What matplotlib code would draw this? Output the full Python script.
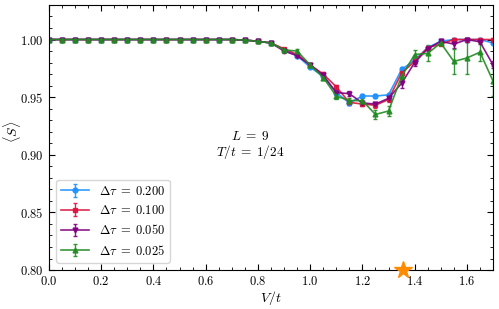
import numpy as np
import matplotlib
matplotlib.use('Agg')
import matplotlib.pyplot as plt
from matplotlib.ticker import MultipleLocator

# fonts: computer modern look
matplotlib.rcParams['font.family'] = 'serif'
matplotlib.rcParams['font.serif'] = ['cmr10']
matplotlib.rcParams['mathtext.fontset'] = 'cm'
matplotlib.rcParams['axes.formatter.use_mathtext'] = True
matplotlib.rcParams['axes.unicode_minus'] = False

# V/t grid
V = [0.00, 0.05, 0.10, 0.15, 0.20, 0.25, 0.30, 0.35, 0.40, 0.45, 0.50, 0.55,
     0.60, 0.65, 0.70, 0.75, 0.80, 0.85, 0.90, 0.95, 1.00, 1.05, 1.10, 1.15,
     1.20, 1.25, 1.30, 1.35, 1.40, 1.45, 1.50, 1.55, 1.60, 1.65, 1.70]

# <S> for each dtau (first 16 points are all ~1)
flat = [1.0] * 15 + [0.9995]
S_200 = flat + [0.9985, 0.997, 0.991, 0.986, 0.976, 0.968, 0.954, 0.945, 0.951,
                0.951, 0.952, 0.974, 0.982, 0.993, 0.9985, 1.000, 1.000, 1.000, 0.997]
S_100 = flat + [0.9985, 0.997, 0.992, 0.987, 0.978, 0.970, 0.959, 0.9455, 0.944,
                0.943, 0.948, 0.971, 0.981, 0.993, 0.996, 1.000, 1.000, 1.000, 1.000]
S_050 = flat + [0.9985, 0.997, 0.990, 0.986, 0.978, 0.969, 0.954, 0.953, 0.945,
                0.944, 0.949, 0.962, 0.980, 0.992, 0.9985, 0.996, 1.000, 0.998, 0.978]
S_025 = flat + [0.9985, 0.997, 0.991, 0.990, 0.978, 0.967, 0.951, 0.947, 0.947,
                0.935, 0.938, 0.968, 0.987, 0.988, 0.997, 0.981, 0.984, 0.989, 0.964]

# error bars
e0 = [0.0003] * 16
E_200 = e0 + [0.0005, 0.0008, 0.001, 0.001, 0.001, 0.001, 0.0015, 0.0015, 0.0015,
              0.0015, 0.0015, 0.002, 0.0015, 0.001, 0.001, 0.0008, 0.0008, 0.0008, 0.001]
E_100 = e0 + [0.0005, 0.0008, 0.001, 0.001, 0.001, 0.0015, 0.0015, 0.002, 0.002,
              0.002, 0.002, 0.002, 0.002, 0.0015, 0.001, 0.001, 0.001, 0.001, 0.001]
E_050 = e0 + [0.0005, 0.001, 0.0015, 0.0015, 0.0015, 0.002, 0.002, 0.002, 0.002,
              0.002, 0.002, 0.004, 0.003, 0.002, 0.0015, 0.003, 0.0015, 0.002, 0.003]
E_025 = e0 + [0.0005, 0.001, 0.0015, 0.002, 0.002, 0.002, 0.003, 0.002, 0.002,
              0.004, 0.004, 0.004, 0.004, 0.007, 0.002, 0.011, 0.014, 0.008, 0.013]

series = [
    (S_200, E_200, r'$\Delta\tau\;=\;0.200$', '#1e90ff', 'o'),
    (S_100, E_100, r'$\Delta\tau\;=\;0.100$', '#dc143c', 's'),
    (S_050, E_050, r'$\Delta\tau\;=\;0.050$', '#800080', 'v'),
    (S_025, E_025, r'$\Delta\tau\;=\;0.025$', '#228b22', '^'),
]

# critical point marker
V_c = 1.355
S_c = 0.80

fig = plt.figure(figsize=(4.99, 3.09), dpi=100)
ax = fig.add_axes([0.098, 0.126, 0.89, 0.858])

for s, e, lab, col, mk in series:
    ax.errorbar(V, s, yerr=e, color=col, marker=mk, markersize=3.5,
                markerfacecolor=matplotlib.colors.to_rgba(col, 0.3),
                markeredgewidth=1.0, lw=1.2, capsize=1.5, elinewidth=1.0,
                label=lab, alpha=0.9)

ax.plot([V_c], [S_c], marker='*', color='#ff8c00', markersize=13,
        clip_on=False, zorder=10, linestyle='none')

ax.text(0.77, 0.908, '$L\\;=\\;9$\n$T/t\\;=\\;1/24$', ha='center', va='center',
        fontsize=9.5, linespacing=1.0)

ax.set_xlim(0, 1.7)
ax.set_ylim(0.80, 1.03)
ax.xaxis.set_major_locator(MultipleLocator(0.2))
ax.xaxis.set_minor_locator(MultipleLocator(0.05))
ax.yaxis.set_major_locator(MultipleLocator(0.05))
ax.yaxis.set_minor_locator(MultipleLocator(0.01))
ax.tick_params(which='both', direction='in', top=True, right=True, labelsize=9)
ax.tick_params(which='major', length=4)
ax.tick_params(which='minor', length=2)
ax.set_xlabel('$V/t$', fontsize=10, labelpad=1)
ax.set_ylabel(r'$\langle S \rangle$', fontsize=10)
ax.yaxis.set_label_coords(-0.058, 0.52)

ax.legend(loc='lower left', fontsize=9, frameon=True, handlelength=2.2,
          borderaxespad=0.6)

fig.savefig('out.png', dpi=100)
